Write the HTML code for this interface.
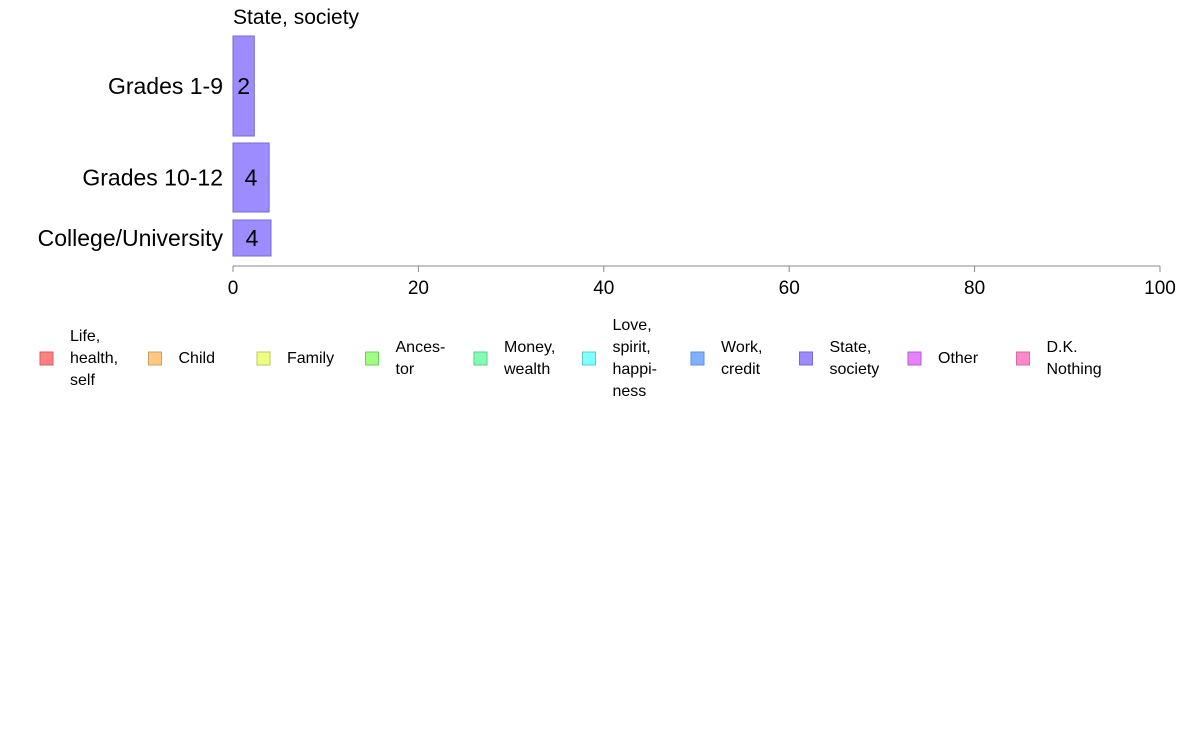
<!DOCTYPE html>
<html><head><meta charset="utf-8"><style>
body{margin:0;background:#fff;font-family:"Liberation Sans",Arial,sans-serif}
</style></head><body>
<svg id="chart" width="1188" height="736" xmlns="http://www.w3.org/2000/svg" font-family="Liberation Sans, Arial, sans-serif">
<g id="plot"></g>
<g id="legend"></g>
</svg>
<script>
const categories=["Grades 1-9","Grades 10-12","College/University"];
const values=[2.3,3.9,4.1];
const labels=["2","4","4"];
const bandTop=[36,143,220];
const bandBottom=[136,212,256];
const ticks=[0,20,40,60,80,100];
const legendNames=[["Life,","health,","self"],["Child"],["Family"],["Ances-","tor"],["Money,","wealth"],["Love,","spirit,","happi-","ness"],["Work,","credit"],["State,","society"],["Other"],["D.K.","Nothing"]];
const legendColors=["#ff8080","#ffc880","#eeff80","#a0ff80","#80ffb0","#80ffff","#80b0ff","#9c8cff","#e880ff","#ff88cc"];
const legendStroke=["#d06060","#c8a060","#b8c860","#70c860","#60c890","#60c8c8","#6090d0","#7a6ad0","#b060d0","#d070a0"];
const NS="http://www.w3.org/2000/svg";
const x=v=>233+v*(1160-233)/100;
function mk(t,a,p){const e=document.createElementNS(NS,t);for(const k in a)e.setAttribute(k,a[k]);p.appendChild(e);return e;}
const plot=document.getElementById('plot');
const title=mk('text',{x:233,y:24,'font-size':21,fill:'#000'},plot);title.textContent="State, society";


categories.forEach((c,i)=>{
 const r=mk('rect',{x:x(0),y:bandTop[i],width:x(values[i])-x(0),height:bandBottom[i]-bandTop[i],fill:'#9c8cff',stroke:'#7a6ad0','stroke-width':1},plot);
 
 
 const cy=(bandTop[i]+bandBottom[i])/2;
 const t=mk('text',{x:(x(0)+x(values[i]))/2,y:cy+8,'text-anchor':'middle','font-size':23,fill:'#000'},plot);t.textContent=labels[i];
 
 
 const l=mk('text',{x:223,y:cy+8,'text-anchor':'end','font-size':23,fill:'#000'},plot);l.textContent=c;
 
 
});
const ax=mk('line',{x1:x(0),x2:x(100),y1:266,y2:266,stroke:'#888','stroke-width':1},plot);


ticks.forEach(v=>{
 const tk=mk('line',{x1:x(v),x2:x(v),y1:266,y2:272,stroke:'#888'},plot);
 
 
 const t=mk('text',{x:x(v),y:294,'text-anchor':'middle','font-size':19,fill:'#000'},plot);t.textContent=v;
 
 
});
const leg=document.getElementById('legend');
legendNames.forEach((n,i)=>{
 const lx=40+i*108.5;
 const g=mk('g',{},leg);
 
 
 mk('rect',{x:lx,y:352,width:13,height:13,fill:legendColors[i],stroke:legendStroke[i]},g);
 const startY=363-(n.length-1)*11+0;
 n.forEach((s,j)=>{const t=mk('text',{x:lx+30,y:startY+j*22,'font-size':16,fill:'#000'},g);t.textContent=s;});
});
</script>
</body></html>
